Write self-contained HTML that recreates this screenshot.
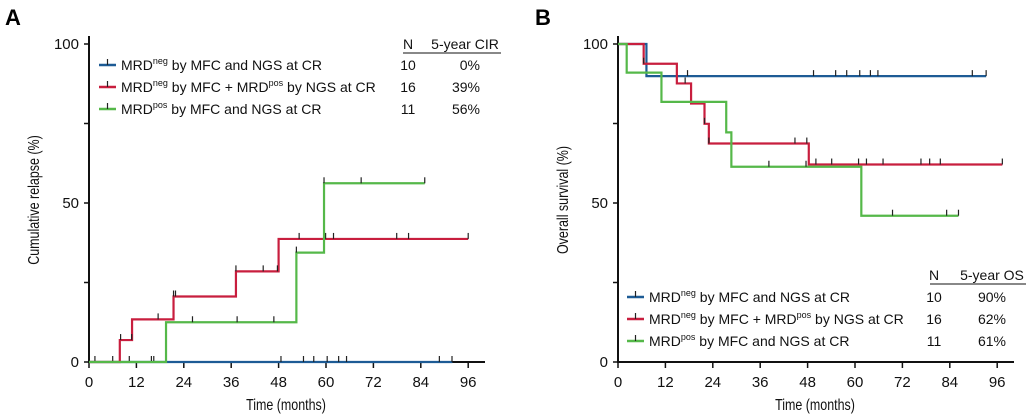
<!DOCTYPE html>
<html><head><meta charset="utf-8">
<style>
html,body{margin:0;padding:0;background:#fff;}
svg{display:block;font-family:"Liberation Sans",Arial,sans-serif;}
</style></head>
<body>
<svg id="chart" width="1034" height="417" viewBox="0 0 1034 417" xmlns="http://www.w3.org/2000/svg">
<text x="5" y="25" font-size="22" font-weight="bold">A</text>
<text x="535" y="25" font-size="22" font-weight="bold">B</text>
<g id="pa"></g>
<g id="pb"></g>
</svg>
<script>
// Panel A: cumulative relapse (%)
const xTicks = [0,12,24,36,48,60,72,84,96];
const yTicks = [0,25,50,75,100];
const yLabels = ["0","","50","","100"];
const aBlueT = [0], aBlueV = [0], aBlueEnd = 92;
const aBlueCens = [1.5,6.0,10.2,15.8,16.4,48.6,54.3,56.9,60.3,63.2,65.2,88.7,91.9];
const aRedT = [0,7.8,10.9,21.4,37.2,48.0], aRedV = [0,6.9,13.4,20.6,28.5,38.7], aRedEnd = 96;
const aRedCens = [8.0,10.8,17.5,21.4,21.9,37.2,44.1,47.7,53.2,59.9,61.9,77.9,80.9,96];
const aGreenT = [0,19.5,52.5,59.5], aGreenV = [0,12.5,34.4,56.2], aGreenEnd = 85;
const aGreenCens = [26.2,37.5,46.8,52.5,59.5,68.9,85];
// Panel B: overall survival (%)
const bBlueT = [0,7.2], bBlueV = [100,89.9], bBlueEnd = 93.2;
const bBlueCens = [17.6,49.5,55.1,57.9,61.2,63.9,65.8,89.7,93.2];
const bRedT = [0,6.5,14.9,18.5,21.9,23.0,48.3], bRedV = [100,93.8,87.6,81.3,74.9,68.7,62.1], bRedEnd = 97.3;
const bRedCens = [6.5,17.0,21.9,23.0,44.8,47.8,50.1,54.1,60.9,62.9,67.1,76.7,78.9,81.6,97.3];
const bGreenT = [0,2.2,11.0,27.4,28.7,61.6], bGreenV = [100,91.0,81.8,72.2,61.4,46.0], bGreenEnd = 86.2;
const bGreenCens = [38.2,47.6,69.5,83.2,86.2];

const legendNames = ["neg|MFC and NGS at CR","negpos","pos|MFC and NGS at CR"];
const aN = ["10","16","11"], aPct = ["0%","39%","56%"];
const bN = ["10","16","11"], bPct = ["90%","62%","61%"];

const COL = {blue:"#1d5b95", red:"#c81e3e", green:"#55b849"};
const NS = "http://www.w3.org/2000/svg";
function mk(parent, tag, attrs){const e=document.createElementNS(NS,tag);for(const k in attrs)e.setAttribute(k,attrs[k]);parent.appendChild(e);return e;}

function stepValueAt(T,V,t){let v=V[0];for(let i=0;i<T.length;i++){if(T[i]<=t+1e-9)v=V[i];}return v;}

function panel(g, x0, xAxisEnd, yTitle, series, legend){
  const sx = m => x0 + m*3.95;
  const sy = v => 362 - v*3.18;
  // axes
  const ax = mk(g,'line',{x1:x0,y1:362,x2:xAxisEnd,y2:362,stroke:'#111','stroke-width':2});
   
  const ay = mk(g,'line',{x1:x0,y1:36,x2:x0,y2:363,stroke:'#111','stroke-width':2});
   
  xTicks.forEach(t=>{
    const l=mk(g,'line',{x1:sx(t),y1:362,x2:sx(t),y2:368,stroke:'#111','stroke-width':1.5});
     
    const tx=mk(g,'text',{x:sx(t),y:387,'font-size':15,'text-anchor':'middle',fill:'#111'});
    tx.textContent=t;
     
  });
  yTicks.forEach((t,i)=>{
    const l=mk(g,'line',{x1:x0-5,y1:sy(t),x2:x0,y2:sy(t),stroke:'#111','stroke-width':1.5});
     
    if(yLabels[i]){
      const tx=mk(g,'text',{x:x0-10,y:sy(t)+5,'font-size':15,'text-anchor':'end',fill:'#111'});
      tx.textContent=yLabels[i];
       
    }
  });
  const xt=mk(g,'text',{x:0,y:0,'font-size':16,'text-anchor':'middle',fill:'#111',transform:`translate(${x0+197},410) scale(0.78,1)`});
  xt.textContent='Time (months)';
   
  const yt=mk(g,'text',{x:0,y:0,'font-size':16,'text-anchor':'middle',fill:'#111',transform:`translate(${x0-50},200) rotate(-90) scale(0.78,1)`});
  yt.textContent=yTitle;
   
  // series
  series.forEach(s=>{
    let d=`M${sx(s.T[0])},${sy(s.V[0])}`;
    for(let i=1;i<s.T.length;i++){d+=` H${sx(s.T[i])} V${sy(s.V[i])}`;}
    d+=` H${sx(s.end)}`;
    const p=mk(g,'path',{d:d,fill:'none',stroke:s.c,'stroke-width':2.2});
     
    s.cens.forEach(c=>{
      const v=stepValueAt(s.T,s.V,c);
      const l=mk(g,'line',{x1:sx(c),y1:sy(v),x2:sx(c),y2:sy(v)-6,stroke:'#222','stroke-width':1.2});
       
    });
  });
  // legend
  const L=legend;
  const h1=mk(g,'text',{x:L.nx,y:L.hy,'font-size':14,'text-anchor':'middle',fill:'#111'}); h1.textContent='N';
   
  const h2=mk(g,'text',{x:L.px,y:L.hy,'font-size':14,'text-anchor':'middle',fill:'#111'}); h2.textContent=L.head;
   
  const ul=mk(g,'line',{x1:L.ux1,y1:L.hy+4,x2:L.ux2,y2:L.hy+4,stroke:'#111','stroke-width':1});
   
  const cols=[COL.blue,COL.red,COL.green];
  for(let i=0;i<3;i++){
    const y=L.ry+i*22;
    const sw=mk(g,'line',{x1:L.sx,y1:y,x2:L.sx+17,y2:y,stroke:cols[i],'stroke-width':2.5});
     
    const sm=mk(g,'line',{x1:L.sx+8.5,y1:y,x2:L.sx+8.5,y2:y-6,stroke:'#222','stroke-width':1.2});
     
    const t=mk(g,'text',{x:L.sx+22,y:y+5,'font-size':14,fill:'#111'});
     
    if(i===1){
      t.innerHTML='MRD<tspan font-size="9" dy="-6">neg</tspan><tspan dy="6"> by MFC + MRD</tspan><tspan font-size="9" dy="-6">pos</tspan><tspan dy="6"> by NGS at CR</tspan>';
    } else {
      const sup=legendNames[i].split('|')[0];
      t.innerHTML='MRD<tspan font-size="9" dy="-6">'+sup+'</tspan><tspan dy="6"> by MFC and NGS at CR</tspan>';
    }
    const n=mk(g,'text',{x:L.nx,y:y+5,'font-size':14,'text-anchor':'middle',fill:'#111'}); n.textContent=L.N[i];
     
    const pc=mk(g,'text',{x:L.pe,y:y+5,'font-size':14,'text-anchor':'end',fill:'#111'}); pc.textContent=L.P[i];
     
  }
}

panel(document.getElementById('pa'), 89, 485, 'Cumulative relapse (%)', [
  {name:'mrd-neg-both',c:COL.blue,T:aBlueT,V:aBlueV,end:aBlueEnd,cens:aBlueCens},
  {name:'mrd-neg-mfc-pos-ngs',c:COL.red,T:aRedT,V:aRedV,end:aRedEnd,cens:aRedCens},
  {name:'mrd-pos-both',c:COL.green,T:aGreenT,V:aGreenV,end:aGreenEnd,cens:aGreenCens}
], {nx:408,px:465,hy:49,ux1:403,ux2:501,head:'5-year CIR',ry:65,sx:99,pe:480,N:aN,P:aPct});

panel(document.getElementById('pb'), 618, 1014, 'Overall survival (%)', [
  {name:'mrd-neg-both',c:COL.blue,T:bBlueT,V:bBlueV,end:bBlueEnd,cens:bBlueCens},
  {name:'mrd-neg-mfc-pos-ngs',c:COL.red,T:bRedT,V:bRedV,end:bRedEnd,cens:bRedCens},
  {name:'mrd-pos-both',c:COL.green,T:bGreenT,V:bGreenV,end:bGreenEnd,cens:bGreenCens}
], {nx:934,px:992,hy:280,ux1:930,ux2:1026,head:'5-year OS',ry:297,sx:627,pe:1006,N:bN,P:bPct});
</script>
</body></html>
